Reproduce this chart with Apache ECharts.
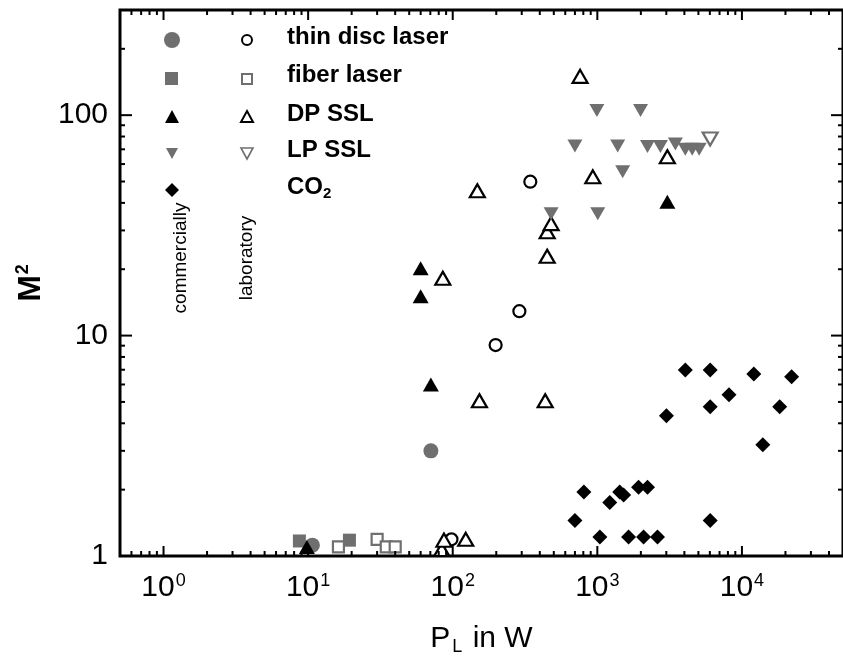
<!DOCTYPE html>
<html>
<head>
<meta charset="utf-8">
<script src="https://cdn.jsdelivr.net/npm/echarts@6/dist/echarts.min.js"></script>
<style>
html, body { margin: 0; padding: 0; background: #fff; }
#main { width: 843px; height: 661px; }
</style>
</head>
<body>
<div id="main"></div>
<script>
// decades used for tick marks / labels
var xDecades = [0.1, 1, 10, 100, 1000, 10000];
var yDecades = [1, 10, 100];

// [P_L in W, M^2]
var thinDiscCom = [[10.7, 1.12], [70.6, 3.0]];
var thinDiscLab = [[98, 1.19], [198, 9.06], [289, 12.9], [344, 49.9]];
var fiberCom = [[8.7, 1.17], [19.3, 1.18]];
var fiberLab = [[16.2, 1.1], [30, 1.19], [34.7, 1.1], [40, 1.1]];
var dpCom = [[9.8, 1.1], [60, 20.2], [60, 15.1], [70.6, 6.0], [3050, 40.5]];
var dpLab = [[84, 1.07], [87, 1.18], [123, 1.19], [85.4, 18.2], [148, 45.4], [153, 5.06],
  [436, 5.06], [450, 22.9], [450, 29.6], [479, 32.2], [760, 150], [931, 52.5], [3050, 64.8]];
var lpCom = [[479, 35.7], [700, 72.4], [993, 105], [1007, 35.7], [1383, 72.4], [1497, 55.3],
  [1990, 105], [2223, 72], [2730, 72], [3465, 74], [4057, 70], [4530, 70], [5060, 70]];
var lpLab = [[6030, 78]];
var co2 = [[700, 1.45], [807, 1.95], [1041, 1.22], [1219, 1.75], [1428, 1.95], [1520, 1.89],
  [1645, 1.22], [1928, 2.05], [2223, 2.05], [2088, 1.22], [2606, 1.22], [6030, 1.45],
  [3005, 4.33], [4060, 6.98], [6030, 6.98], [6030, 4.76], [8140, 5.39], [12080, 6.7],
  [13940, 3.2], [18250, 4.76], [22070, 6.5]];

var X_MIN = 0.5, X_MAX = 50000, Y_MIN = 1, Y_MAX = 300;
var GRAY = '#6f6f6f';
var FONT = 'Liberation Sans';

// tick marks: [x, y, kind] kind 0 x-minor, 1 x-major, 2 y-minor, 3 y-major
var tickData = [];
xDecades.forEach(function (d) {
  for (var k = 1; k < 10; k++) {
    var v = d * k;
    if (v > X_MIN * 1.0001 && v < X_MAX * 0.9999) tickData.push([v, Y_MIN, k === 1 ? 1 : 0]);
  }
});
yDecades.forEach(function (d) {
  for (var k = 1; k < 10; k++) {
    var v = d * k;
    if (v > Y_MIN * 1.0001 && v < Y_MAX * 0.9999) tickData.push([X_MIN, v, k === 1 ? 3 : 2]);
  }
});

function renderTick(params, api) {
  var cs = params.coordSys;
  var kind = api.value(2);
  var p = api.coord([api.value(0), api.value(1)]);
  var style = { stroke: '#000', lineWidth: 2 };
  var len;
  if (kind < 2) {
    len = kind === 1 ? 10 : 5;
    var b = cs.y + cs.height, t = cs.y;
    return { type: 'group', children: [
      { type: 'line', shape: { x1: p[0], y1: b, x2: p[0], y2: b - len }, style: style },
      { type: 'line', shape: { x1: p[0], y1: t, x2: p[0], y2: t + len }, style: style }
    ] };
  }
  len = kind === 3 ? 12 : 5;
  var l = cs.x, r = cs.x + cs.width;
  return { type: 'group', children: [
    { type: 'line', shape: { x1: l, y1: p[1], x2: l + len, y2: p[1] }, style: style },
    { type: 'line', shape: { x1: r, y1: p[1], x2: r - len, y2: p[1] }, style: style }
  ] };
}

function pow10(v) {
  var e = Math.log10(v), n = Math.round(e);
  return Math.abs(e - n) < 1e-6 ? n : null;
}

function scatter(name, data, symbol, size, fill, stroke, rotate) {
  return {
    name: name, type: 'scatter', data: data, symbol: symbol, symbolSize: size,
    symbolRotate: rotate || 0,
    itemStyle: { color: fill, borderColor: stroke, borderWidth: stroke ? 2.2 : 0, opacity: 1 },
    emphasis: { disabled: true }, silent: true
  };
}

var chart = echarts.init(document.getElementById('main'));

var legendRows = [40, 78, 117, 153, 190];
var legendText = ['thin disc laser', 'fiber laser', 'DP SSL', 'LP SSL', '{a|CO}{sub|2}'];
var graphics = [];
legendRows.forEach(function (y, i) {
  graphics.push({ type: 'text', left: 287, top: y - 15, style: {
    text: legendText[i], fill: '#000', font: 'bold 24px ' + FONT,
    rich: { a: { fontSize: 24, fontWeight: 'bold', fontFamily: FONT },
      sub: { fontSize: 15, fontWeight: 'bold', fontFamily: FONT, padding: [14, 0, 0, 0] } }
  } });
});
// legend markers: filled (commercial) and open (laboratory)
graphics.push(
  { type: 'circle', shape: { cx: 172, cy: 40, r: 8 }, style: { fill: GRAY } },
  { type: 'circle', shape: { cx: 247, cy: 40, r: 5 }, style: { fill: '#fff', stroke: '#000', lineWidth: 2 } },
  { type: 'rect', shape: { x: 165, y: 72, width: 13, height: 13 }, style: { fill: GRAY } },
  { type: 'rect', shape: { x: 242, y: 74, width: 10, height: 10 }, style: { fill: '#fff', stroke: GRAY, lineWidth: 2 } },
  { type: 'polygon', shape: { points: [[172, 110], [179, 123], [165, 123]] }, style: { fill: '#000' } },
  { type: 'polygon', shape: { points: [[247, 111], [253, 122], [241, 122]] }, style: { fill: '#fff', stroke: '#000', lineWidth: 2 } },
  { type: 'polygon', shape: { points: [[166, 148], [178, 148], [172, 159]] }, style: { fill: GRAY } },
  { type: 'polygon', shape: { points: [[241, 148], [253, 148], [247, 159]] }, style: { fill: '#fff', stroke: GRAY, lineWidth: 1.6 } },
  { type: 'polygon', shape: { points: [[172, 183], [179, 190], [172, 197], [165, 190]] }, style: { fill: '#000' } },
  { type: 'text', x: 181, y: 258, rotation: Math.PI / 2, style: {
    text: 'commercially', fill: '#000', font: '19px ' + FONT, align: 'center', verticalAlign: 'middle' } },
  { type: 'text', x: 247, y: 258, rotation: Math.PI / 2, style: {
    text: 'laboratory', fill: '#000', font: '19px ' + FONT, align: 'center', verticalAlign: 'middle' } }
);

var option = {
  animation: false,
  backgroundColor: '#fff',
  grid: { left: 120, top: 10, right: -4, bottom: 102, show: true, borderColor: '#000', borderWidth: 3 },
  xAxis: {
    type: 'log', logBase: 10, min: X_MIN, max: X_MAX, splitNumber: 5,
    axisLine: { show: false }, axisTick: { show: false }, splitLine: { show: false },
    axisLabel: {
      margin: 16, showMinLabel: false, showMaxLabel: false,
      formatter: function (v) {
        var n = pow10(v);
        return n === null ? '' : '{b|10}{s|' + n + '}';
      },
      rich: {
        b: { fontSize: 30, fontFamily: FONT, color: '#000' },
        s: { fontSize: 18, fontFamily: FONT, color: '#000', padding: [0, 0, 14, 1] }
      }
    },
    name: '{a|P}{sub|L}{a| in W}', nameLocation: 'middle', nameGap: 66,
    nameTextStyle: {
      rich: {
        a: { fontSize: 30, fontFamily: FONT, color: '#000' },
        sub: { fontSize: 18, fontFamily: FONT, color: '#000', padding: [16, 2, 0, 2] }
      }
    }
  },
  yAxis: {
    type: 'log', logBase: 10, min: Y_MIN, max: Y_MAX, splitNumber: 3,
    axisLine: { show: false }, axisTick: { show: false }, splitLine: { show: false },
    axisLabel: {
      margin: 12, showMaxLabel: false, fontSize: 30, fontFamily: FONT, color: '#000',
      formatter: function (v) {
        return pow10(v) === null ? '' : String(Math.round(v));
      }
    },
    name: '{a|M}{sup|2}', nameLocation: 'middle', nameGap: 70, nameRotate: 90,
    nameTextStyle: {
      rich: {
        a: { fontSize: 32, fontFamily: FONT, fontWeight: 'bold', color: '#000' },
        sup: { fontSize: 18, fontFamily: FONT, fontWeight: 'bold', color: '#000', padding: [0, 0, 16, 1] }
      }
    }
  },
  series: [
    scatter('fiber com', fiberCom, 'rect', 13, GRAY, null),
    scatter('thin disc com', thinDiscCom, 'circle', 15, GRAY, null),
    scatter('DP SSL com', dpCom, 'triangle', [16, 14], '#000', null),
    scatter('fiber lab', fiberLab, 'rect', 11, '#fff', GRAY),
    scatter('thin disc lab', thinDiscLab, 'circle', 12, '#fff', '#000'),
    scatter('DP SSL lab', dpLab, 'triangle', [15, 13], '#fff', '#000'),
    scatter('LP SSL com', lpCom, 'triangle', [15, 13], GRAY, null, 180),
    scatter('LP SSL lab', lpLab, 'triangle', [15, 13], '#fff', GRAY, 180),
    scatter('CO2', co2, 'diamond', 15, '#000', null),
    {
      type: 'custom', data: tickData, renderItem: renderTick, clip: false, silent: true, z: 10
    }
  ],
  graphic: graphics
};

chart.setOption(option);
</script>
</body>
</html>
